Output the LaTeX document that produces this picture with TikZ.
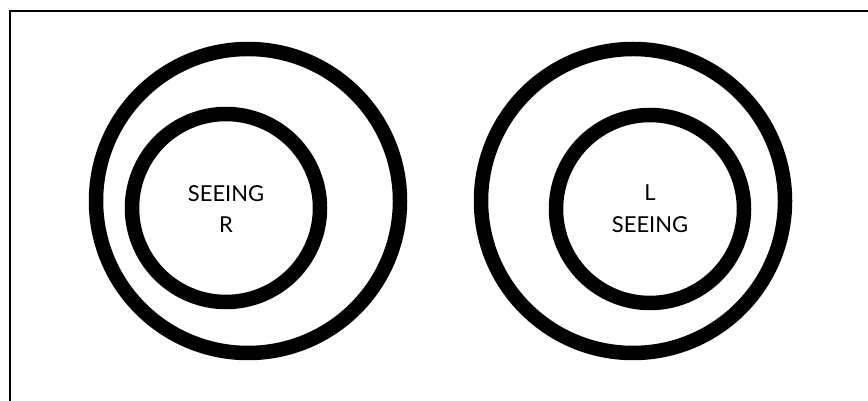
\documentclass[tikz,border=0pt]{standalone}
\usepackage{fontspec}
\setmainfont{Lato}
\usepackage{tikz}
\usetikzlibrary{positioning}

\begin{document}
\begin{tikzpicture}[
    x=0.02cm, y=-0.02cm,
    ring/.style={draw=black, line width=0.29cm},
    frame/.style={draw=black, line width=0.7pt},
    label/.style={align=center, font=\fontsize{12.5}{18}\selectfont}
]
\useasboundingbox (0,0) rectangle (868,401);
\clip (0,0) rectangle (868,401);
\draw[frame] (10,11) rectangle (900,430);
% left eye
\draw[ring] (248,201) circle (152);
\draw[ring] (226,208) circle (94);
\node[label] (seeR) at (226,209) {SEEING\\R};
% right eye
\draw[ring] (633,201) circle (152);
\draw[ring] (650,209) circle (94);
\node[label] (seeL) at (650,209) {L\\SEEING};
\end{tikzpicture}
\end{document}
